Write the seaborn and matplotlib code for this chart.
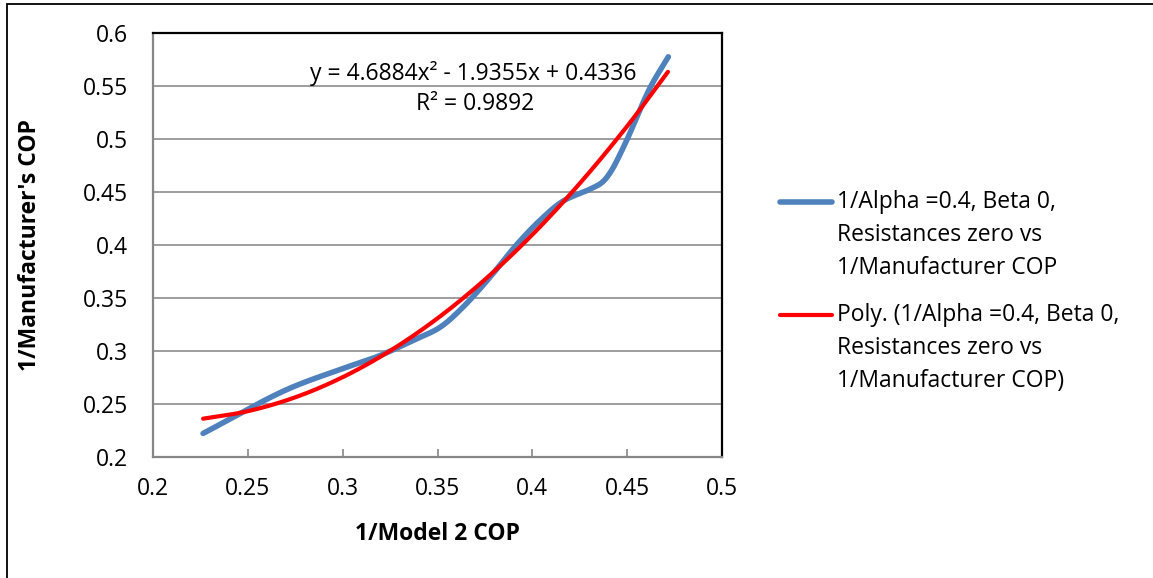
import numpy as np
import pandas as pd
import seaborn as sns
import matplotlib
matplotlib.use("Agg")
import matplotlib.pyplot as plt
from matplotlib.lines import Line2D
from matplotlib.patches import Rectangle

# ---- data ----
blue_x = [0.2264, 0.2703, 0.300, 0.3197, 0.337, 0.3513, 0.3634, 0.3777, 0.3917,
          0.404, 0.416, 0.4304, 0.4365, 0.441, 0.4488, 0.462, 0.4717]
blue_y = [0.2218, 0.2630, 0.283, 0.2954, 0.3096, 0.322, 0.341, 0.3694, 0.400,
          0.423, 0.441, 0.4525, 0.4585, 0.468, 0.495, 0.548, 0.5775]

trend_x = [0.2264, 0.25, 0.275, 0.30, 0.325, 0.35, 0.375, 0.40, 0.425, 0.45, 0.4715]
trend_y = [0.2357, 0.2428, 0.2559, 0.2749, 0.2998, 0.3305, 0.3671, 0.4095, 0.4579, 0.5120, 0.5633]

x_ticks = [0.2, 0.25, 0.3, 0.35, 0.4, 0.45, 0.5]
x_tick_labels = ["0.2", "0.25", "0.3", "0.35", "0.4", "0.45", "0.5"]
y_ticks = [0.2, 0.25, 0.3, 0.35, 0.4, 0.45, 0.5, 0.55, 0.6]
y_tick_labels = ["0.2", "0.25", "0.3", "0.35", "0.4", "0.45", "0.5", "0.55", "0.6"]

series_label = "1/Alpha =0.4, Beta 0,\nResistances zero vs\n1/Manufacturer COP"
trend_label = "Poly. (1/Alpha =0.4, Beta 0,\nResistances zero vs\n1/Manufacturer COP)"
eq_text = "y = 4.6884x² - 1.9355x + 0.4336"
r2_text = "R² = 0.9892"
x_title = "1/Model 2 COP"
y_title = "1/Manufacturer's COP"

W, H = 1153, 578
L, R, T, B = 153, 722, 33, 456.5
XS = (R - L) / 0.3   # px per x unit (for centripetal parametrisation)
YS = (B - T) / 0.4


def smooth(xs, ys, n=40, alpha=0.5):
    """Smoothed line through the points (centripetal Catmull-Rom)."""
    P = np.column_stack([np.asarray(xs) * XS, np.asarray(ys) * YS]).astype(float)
    P = np.vstack([2 * P[0] - P[1], P, 2 * P[-1] - P[-2]])
    out = []
    for i in range(1, len(P) - 2):
        p0, p1, p2, p3 = P[i - 1], P[i], P[i + 1], P[i + 2]
        t0 = 0.0
        t1 = t0 + np.linalg.norm(p1 - p0) ** alpha
        t2 = t1 + np.linalg.norm(p2 - p1) ** alpha
        t3 = t2 + np.linalg.norm(p3 - p2) ** alpha
        t = np.linspace(t1, t2, n)[:, None]
        a1 = (t1 - t) / (t1 - t0) * p0 + (t - t0) / (t1 - t0) * p1
        a2 = (t2 - t) / (t2 - t1) * p1 + (t - t1) / (t2 - t1) * p2
        a3 = (t3 - t) / (t3 - t2) * p2 + (t - t2) / (t3 - t2) * p3
        b1 = (t2 - t) / (t2 - t0) * a1 + (t - t0) / (t2 - t0) * a2
        b2 = (t3 - t) / (t3 - t1) * a2 + (t - t1) / (t3 - t1) * a3
        c = (t2 - t) / (t2 - t1) * b1 + (t - t1) / (t2 - t1) * b2
        out.append(c if i == 1 else c[1:])
    S = np.vstack(out)
    return S[:, 0] / XS, S[:, 1] / YS


sns.set_theme(style="white")
plt.rcParams['font.family'] = ['Open Sans', 'DejaVu Sans']
FS = 16.5

fig = plt.figure(figsize=(W / 100, H / 100), dpi=100)
ax = fig.add_axes([L / W, 1 - B / H, (R - L) / W, (B - T) / H])

bx, by = smooth(blue_x, blue_y)
tx, ty = smooth(trend_x, trend_y)
blue_df = pd.DataFrame({"x": bx, "y": by})
trend_df = pd.DataFrame({"x": tx, "y": ty})

BLUE = "#4F81BD"
RED = "#FF0000"
sns.lineplot(data=blue_df, x="x", y="y", sort=False, estimator=None, ax=ax,
             color=BLUE, lw=4.0, solid_capstyle="round", zorder=3)
sns.lineplot(data=trend_df, x="x", y="y", sort=False, estimator=None, ax=ax,
             color=RED, lw=3.0, solid_capstyle="round", zorder=4)

ax.set_xlim(0.2, 0.5)
ax.set_ylim(0.2, 0.6)
ax.set_xticks(x_ticks)
ax.set_xticklabels(x_tick_labels)
ax.set_yticks(y_ticks)
ax.set_yticklabels(y_tick_labels)
ax.grid(False)
for yv in y_ticks[1:-1]:
    ax.axhline(yv, color="#8C8C8C", lw=1.2, zorder=1)

GREY = "#868686"
ax.spines["left"].set_color(GREY)
ax.spines["bottom"].set_color(GREY)
ax.spines["left"].set_linewidth(1.6)
ax.spines["bottom"].set_linewidth(1.6)
ax.spines["top"].set_color("black")
ax.spines["right"].set_color("black")
ax.spines["top"].set_linewidth(1.6)
ax.spines["right"].set_linewidth(1.6)
for s in ax.spines.values():
    s.set_visible(True)

ax.tick_params(axis="x", direction="in", length=6, width=1.2, color=GREY,
               pad=15, labelsize=FS, labelcolor="black", bottom=True)
ax.tick_params(axis="y", length=0, pad=18, labelsize=FS, labelcolor="black", left=True)

ax.set_xlabel(x_title, fontsize=FS, fontweight="bold", color="black")
ax.set_ylabel(y_title, fontsize=FS, fontweight="bold", color="black")
ax.xaxis.label.set_va("center")
ax.yaxis.label.set_va("center")
ax.xaxis.set_label_coords(0.5, (B - 534) / (B - T))
ax.yaxis.set_label_coords((30 - L) / (R - L), 0.5)

fig.text(473 / W, 1 - 73 / H, eq_text, ha="center", va="center", fontsize=FS, color="black")
fig.text(475 / W, 1 - 104 / H, r2_text, ha="center", va="center", fontsize=FS, color="black")

# legend
line_step = 33
for yy, lab, col, lw in [(202, series_label, BLUE, 4.0), (315, trend_label, RED, 3.0)]:
    fig.add_artist(Line2D([780 / W, 832 / W], [1 - yy / H, 1 - yy / H], color=col, lw=lw,
                          solid_capstyle="round", transform=fig.transFigure))
    for k, part in enumerate(lab.split("\n")):
        fig.text(837 / W, 1 - (yy + k * line_step) / H, part, ha="left", va="center",
                 fontsize=FS, color="black")

# outer chart border
fig.add_artist(Rectangle((7 / W, -0.2), 2.0, 1.2 - 4 / H, transform=fig.transFigure,
                         fill=False, ec="black", lw=1.3))

fig.savefig("out.png", dpi=100, facecolor="white")
